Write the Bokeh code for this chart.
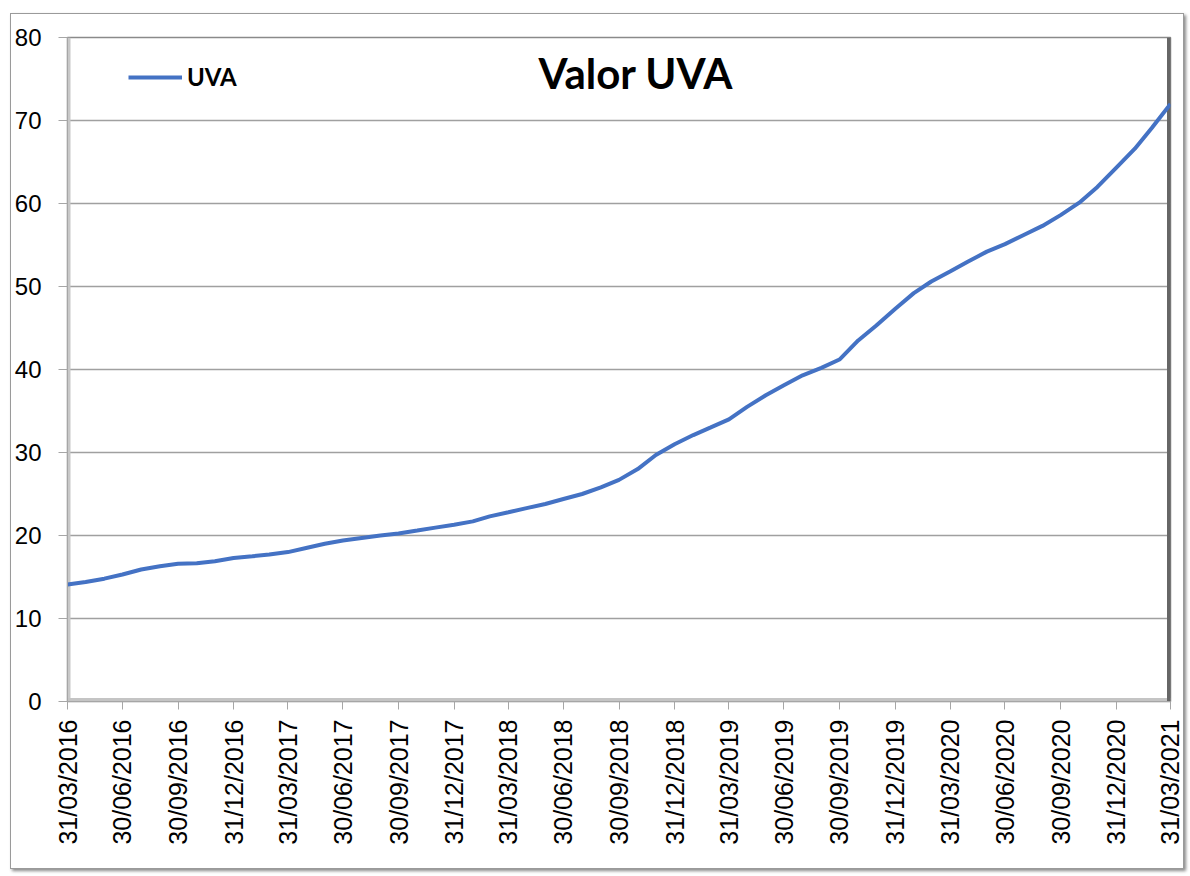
import math
import pandas as pd
from bokeh.plotting import figure
from bokeh.models import (ColumnDataSource, FixedTicker, DatetimeTickFormatter, Legend,
                          LegendItem, Label, Range1d, Span)
from bokeh.embed import file_html
from bokeh.resources import INLINE

# ---- data ----
start_date = "2016-03-31"
end_date = "2021-03-31"
uva_values = [
    14.1, 14.4, 14.8, 15.3, 15.9, 16.3, 16.6, 16.65, 16.9, 17.3,
    17.5, 17.7, 18.0, 18.5, 19.0, 19.4, 19.7, 20.0, 20.25, 20.6,
    20.95, 21.3, 21.7, 22.3, 22.8, 23.3, 23.8, 24.4, 25.0, 25.8,
    26.7, 28.0, 29.7, 31.0, 32.1, 33.0, 34.0, 35.5, 36.9, 38.1,
    39.3, 40.2, 41.2, 43.5, 45.3, 47.3, 49.2, 50.6, 51.8, 53.0,
    54.2, 55.1, 56.2, 57.3, 58.6, 60.1, 62.0, 64.3, 66.6, 69.1,
    72.0,
]
tick_labels = [
    "31/03/2016", "30/06/2016", "30/09/2016", "31/12/2016",
    "31/03/2017", "30/06/2017", "30/09/2017", "31/12/2017",
    "31/03/2018", "30/06/2018", "30/09/2018", "31/12/2018",
    "31/03/2019", "30/06/2019", "30/09/2019", "31/12/2019",
    "31/03/2020", "30/06/2020", "30/09/2020", "31/12/2020",
    "31/03/2021",
]
y_ticks = [0, 10, 20, 30, 40, 50, 60, 70, 80]
series_name = "UVA"
chart_title = "Valor UVA"

dates = pd.date_range(start_date, end_date, freq="ME")
source = ColumnDataSource(data=dict(date=dates, uva=uva_values))

tick_dates = pd.to_datetime(tick_labels, format="%d/%m/%Y")
tick_ms = [float(t.value // 10**6) for t in tick_dates]

p = figure(width=1174, height=856, x_axis_type="datetime",
           output_backend="svg", toolbar_location=None,
           min_border_left=55, min_border_right=15,
           min_border_top=23, min_border_bottom=169)
p.styles = {"margin-left": "10px", "margin-top": "13px",
            "border": "1px solid #9a9a9a",
            "box-shadow": "2px 2px 3px #8a8a8a"}

p.x_range = Range1d(pd.Timestamp(start_date), pd.Timestamp(end_date))
p.y_range = Range1d(0, 80)

# 3D-like frame edges
p.add_layout(Span(location=pd.Timestamp(start_date), dimension="height",
                  line_color="#c8c8c8", line_width=6, level="underlay"))
p.add_layout(Span(location=0, dimension="width",
                  line_color="#c4c4c4", line_width=7, level="underlay"))
p.add_layout(Span(location=pd.Timestamp(end_date), dimension="height",
                  line_color="#666666", line_width=7, level="underlay"))

r = p.line("date", "uva", source=source, line_color="#4472C4", line_width=4)

# axes
p.xaxis.ticker = FixedTicker(ticks=tick_ms)
fmt = "%d/%m/%Y"
p.xaxis.formatter = DatetimeTickFormatter(days=fmt, months=fmt, years=fmt,
                                          hours=fmt, minutes=fmt, seconds=fmt,
                                          milliseconds=fmt, microseconds=fmt,
                                          minsec=fmt, hourmin=fmt)
p.xaxis.major_label_orientation = math.pi / 2
p.xaxis.major_label_text_font = "Liberation Sans"
p.xaxis.major_label_text_font_size = "25px"
p.xaxis.major_label_text_color = "#000000"
p.xaxis.major_label_standoff = 10
p.xaxis.major_tick_out = 8
p.xaxis.major_tick_in = 0
p.xaxis.minor_tick_line_color = None
p.xaxis.axis_line_color = "#a6a6a6"
p.xaxis.major_tick_line_color = "#a6a6a6"

p.yaxis.ticker = FixedTicker(ticks=y_ticks)
p.yaxis.major_label_text_font = "Liberation Sans"
p.yaxis.major_label_text_font_size = "24px"
p.yaxis.major_label_text_color = "#000000"
p.yaxis.major_label_standoff = 17
p.yaxis.major_tick_out = 9
p.yaxis.major_tick_in = 0
p.yaxis.minor_tick_line_color = None
p.yaxis.axis_line_color = "#a6a6a6"
p.yaxis.major_tick_line_color = "#a6a6a6"

p.xgrid.grid_line_color = None
p.ygrid.grid_line_color = "#a0a0a0"
p.ygrid.grid_line_width = 1.5

p.outline_line_color = "#8a8a8a"
p.outline_line_width = 1.5
p.background_fill_color = "white"
p.border_fill_color = "white"

legend = Legend(items=[LegendItem(label=series_name, renderers=[r])],
                location=(61, 610), padding=0, margin=0, spacing=0,
                glyph_width=54, glyph_height=20, label_height=20,
                label_standoff=5, label_text_color="#000000",
                label_text_font="Lato", label_text_font_style="bold",
                label_text_font_size="24px",
                border_line_color=None, background_fill_alpha=0)
p.add_layout(legend)

title_label = Label(x=pd.Timestamp("2018-10-28"), y=75.7, text=chart_title,
                    text_font="Lato", text_font_style="bold",
                    text_font_size="42px", text_align="center",
                    text_baseline="middle", text_color="#000000")
p.add_layout(title_label)

open("out.html", "w").write(file_html(p, INLINE))
